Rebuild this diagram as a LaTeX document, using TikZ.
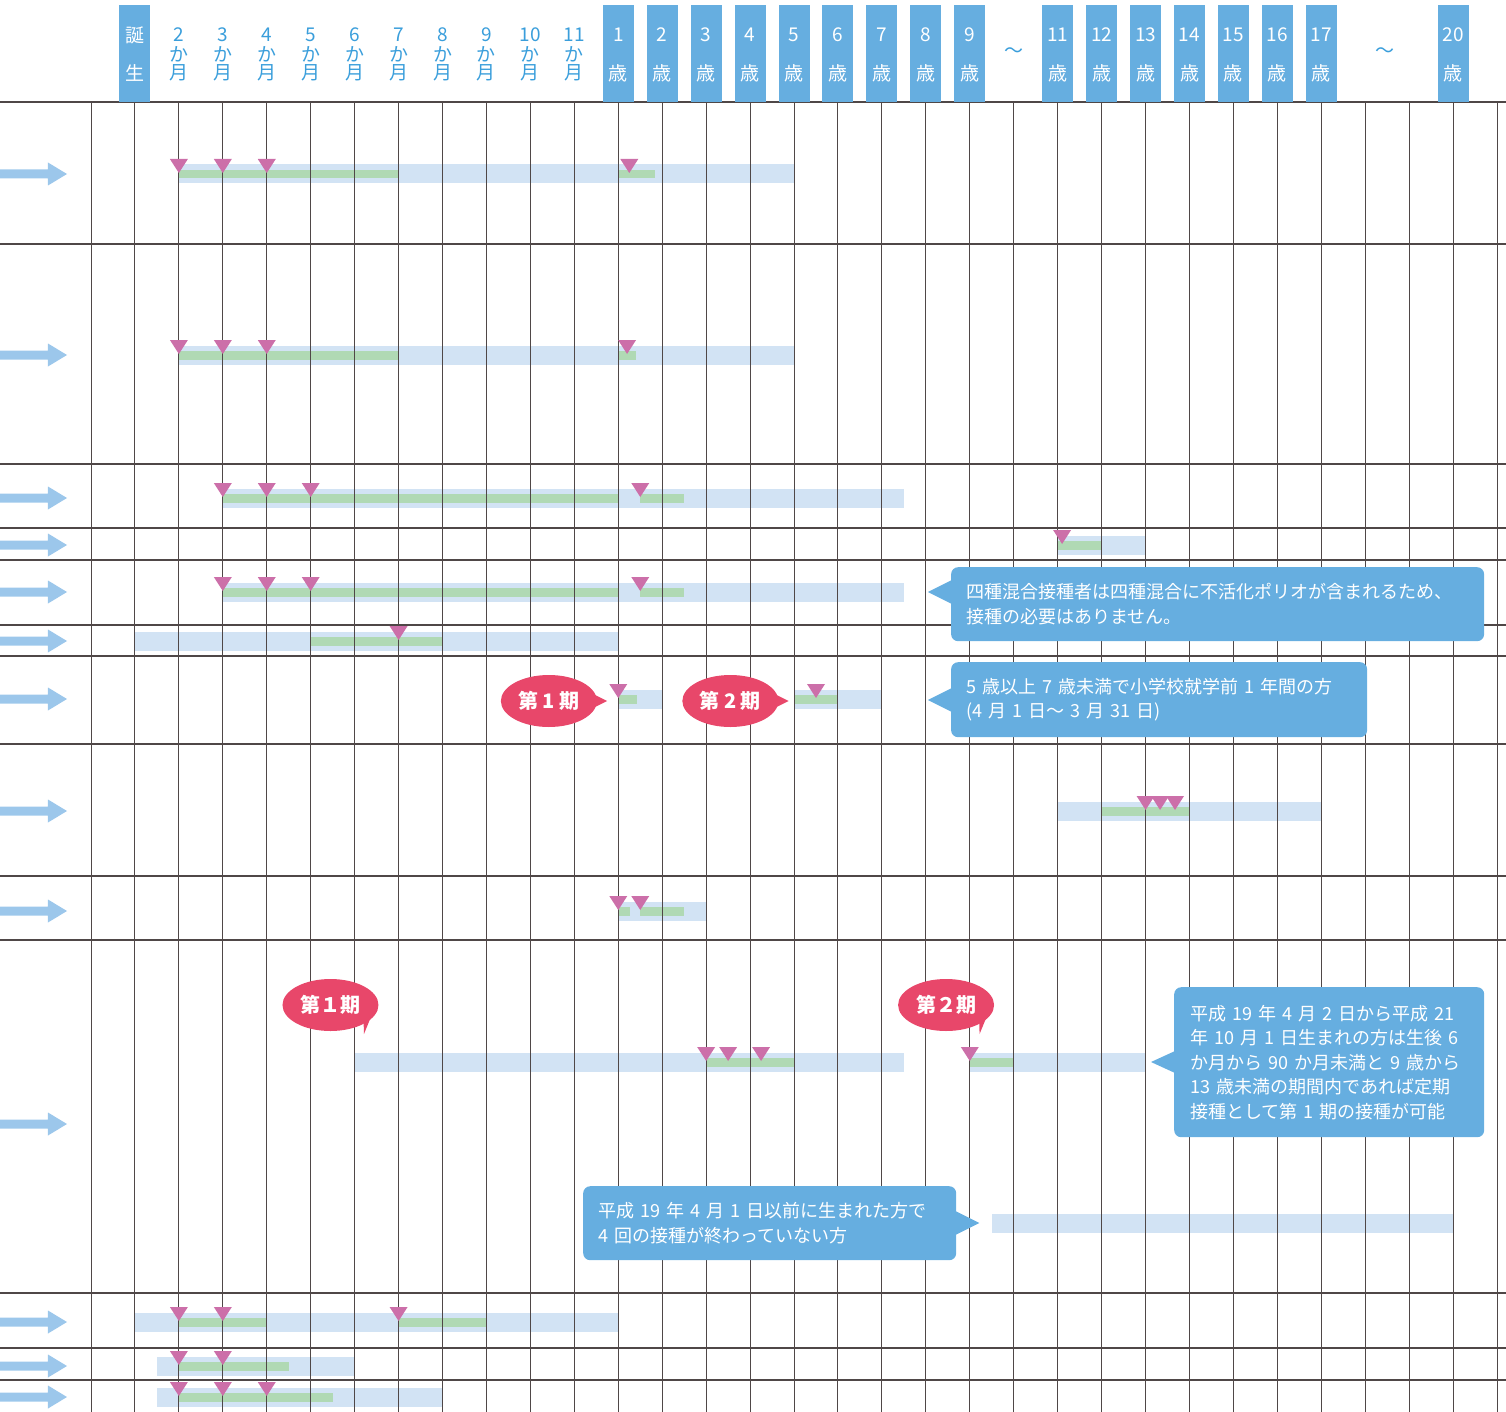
\documentclass[tikz,border=0pt]{standalone}
\usepackage{fontspec}
\setmainfont{Noto Sans CJK JP}
\usetikzlibrary{shapes.geometric}

\definecolor{hdrblue}{HTML}{66AEE0}
\definecolor{monthblue}{HTML}{3A9EDB}
\definecolor{periodblue}{HTML}{D2E3F4}
\definecolor{stdgreen}{HTML}{B0D9B4}
\definecolor{dosepink}{HTML}{CC6FA9}
\definecolor{phasered}{HTML}{E8476A}
\definecolor{rowarrowblue}{HTML}{9CC7EB}
\definecolor{gridgray}{HTML}{4F4747}

% bars of one row: from column, to column, row centre
\newcommand\vperiod[3]{\fill[periodblue] (#1,#3-9.5) rectangle (#2,#3+9.5);}
\newcommand\vstd[3]{\fill[stdgreen] (#1,#3-4) rectangle (#2,#3+4.5);}
\newcommand\vdose[2]{\foreach \d in {#1} {\fill[dosepink] (\d,#2-1) -- ++(-9pt,14pt) -- ++(18pt,0pt) -- cycle;}}

\begin{document}
\begin{tikzpicture}[x=43.94pt, y=-1pt,
  hdrbox/.style={fill=hdrblue, minimum width=31pt, minimum height=97pt, inner sep=0pt},
  hdrtxt/.style={font=\fontsize{19}{22}\selectfont, inner sep=0pt},
  monthtxt/.style={hdrtxt, text=monthblue},
  agetxt/.style={hdrtxt, text=white},
  gridline/.style={draw=gridgray, line width=1pt},
  phase/.style={ellipse, fill=phasered, text=white, minimum width=96pt, minimum height=52pt, inner sep=0pt, font=\fontsize{20}{24}\selectfont\bfseries},
  note/.style={fill=hdrblue, text=white, rounded corners=7pt, align=left, inner xsep=15pt, inner ysep=0pt, font=\fontsize{18}{24.5}\selectfont}]
\useasboundingbox (-2.071,0) rectangle (32.203,1412);

% bars
\vperiod{2}{16}{174} \vstd{2}{7}{174} \vstd{12}{12.84}{174}
\vperiod{2}{16}{355} \vstd{2}{7}{355} \vstd{12}{12.4}{355}
\vperiod{3}{18.5}{498} \vstd{3}{12}{498} \vstd{12.5}{13.5}{498}
\vperiod{22}{24}{545} \vstd{22}{23}{545}
\vperiod{3}{18.5}{592} \vstd{3}{12}{592} \vstd{12.5}{13.5}{592}
\vperiod{1}{12}{641} \vstd{5}{8}{641}
\vperiod{12}{13}{699} \vstd{12}{12.43}{699}
\vperiod{16}{18}{699} \vstd{16}{17}{699}
\vperiod{22}{28}{811} \vstd{23}{25}{811}
\vperiod{12}{14}{911} \vstd{12}{12.27}{911} \vstd{12.5}{13.5}{911}
\vperiod{6}{18.5}{1062} \vstd{14}{16}{1062}
\vperiod{20}{24}{1062} \vstd{20}{21}{1062}
\vperiod{20.5}{31}{1223}
\vperiod{1}{12}{1322} \vstd{2}{4}{1322} \vstd{7}{9}{1322}
\vperiod{1.5}{6}{1366} \vstd{2}{4.5}{1366}
\vperiod{1.5}{8}{1397} \vstd{2}{5.5}{1397}

% grid
\foreach \y in {102,244,464,528,560,625,656,744,876,940,1293,1348,1380}
  \draw[gridline, line width=1.5pt] (-2.071,\y) -- (32.203,\y);
\foreach \i in {0,...,32}
  \draw[gridline] (\i,102) -- (\i,1412);

% doses
\vdose{2,3,4,12.25}{174}
\vdose{2,3,4,12.2}{355}
\vdose{3,4,5,12.5}{498}
\vdose{22.1}{545}
\vdose{3,4,5,12.5}{592}
\vdose{7}{641}
\vdose{12,16.5}{699}
\vdose{24,24.33,24.67}{811}
\vdose{12,12.5}{911}
\vdose{14,14.5,15.25,20}{1062}
\vdose{2,3,7}{1322}
\vdose{2,3}{1366}
\vdose{2,3,4}{1397}

% row arrows
\foreach \y in {174,355,498,545,592,641,699,811,911,1124,1322,1366,1397}
  \fill[rowarrowblue] (-2.08,\y-4.5) -- (-0.979,\y-4.5) -- (-0.979,\y-11.5) -- (-0.546,\y)
    -- (-0.979,\y+11.5) -- (-0.979,\y+4.5) -- (-2.08,\y+4.5) -- cycle;

% header
\node[hdrbox] (birthbox) at (1,53.5) {};
\node[agetxt] (birthA) at (1,35) {誕};
\node[agetxt] (birthB) at (1,73) {生};
\foreach \m in {2,...,11} {
  \node[monthtxt] (mnum\m) at (\m,35) {\m};
  \node[monthtxt] (mka\m) at (\m,54) {か};
  \node[monthtxt] (mgetsu\m) at (\m,73) {月};
}
\foreach \i/\a in {12/1,13/2,14/3,15/4,16/5,17/6,18/7,19/8,20/9,22/11,23/12,24/13,25/14,26/15,27/16,28/17,31/20} {
  \node[hdrbox] (agebox\a) at (\i,53.5) {};
  \node[agetxt] (agenum\a) at (\i,35) {\a};
  \node[agetxt] (agesai\a) at (\i,73) {歳};
}
\node[monthtxt] (skipA) at (21,53) {～};
\node[monthtxt] (skipB) at (29.45,53) {～};

% phases
\node[phase] (phaseA1) at (10.42,701) {第 1 期};
\fill[phasered] (phaseA1.east) ++(-6pt,8pt) -- ++(16pt,-8pt) -- ++(-16pt,-8pt) -- cycle;
\node[phase] (phaseA2) at (14.55,701) {第 2 期};
\fill[phasered] (phaseA2.east) ++(-6pt,8pt) -- ++(16pt,-8pt) -- ++(-16pt,-8pt) -- cycle;
\node[phase] (phaseB1) at (5.45,1005) {第１期};
\fill[phasered] (phaseB1.center) ++(33pt,-13pt) -- ++(0.5pt,-16pt) -- ++(9pt,22pt) -- cycle;
\node[phase] (phaseB2) at (19.46,1005) {第２期};
\fill[phasered] (phaseB2.center) ++(33pt,-13pt) -- ++(0.5pt,-16pt) -- ++(9pt,22pt) -- cycle;

% notes
\node[note, anchor=north west, text width=503pt, minimum height=74pt] (noteA) at (19.57,567)
  {四種混合接種者は四種混合に不活化ポリオが含まれるため、\\接種の必要はありません。};
\fill[hdrblue] (noteA.north west) ++(1pt,-13pt) -- ++(-24pt,-12pt) -- ++(24pt,-12pt) -- cycle;
\node[note, anchor=north west, text width=386pt, minimum height=75pt] (noteB) at (19.57,662)
  {5 歳以上 7 歳未満で小学校就学前 1 年間の方\\(4 月 1 日～ 3 月 31 日)};
\fill[hdrblue] (noteB.north west) ++(1pt,-26pt) -- ++(-24pt,-12pt) -- ++(24pt,-12pt) -- cycle;
\node[note, anchor=north west, text width=278pt, inner xsep=16pt, minimum height=150pt] (noteC) at (24.647,987)
  {平成 19 年 4 月 2 日から平成 21\\年 10 月 1 日生まれの方は生後 6\\か月から 90 か月未満と 9 歳から\\13 歳未満の期間内であれば定期\\接種として第 1 期の接種が可能};
\fill[hdrblue] (noteC.north west) ++(1pt,-64pt) -- ++(-24pt,-11pt) -- ++(24pt,-11pt) -- cycle;
\node[note, anchor=north west, text width=343pt, minimum height=74pt] (noteD) at (11.197,1186)
  {平成 19 年 4 月 1 日以前に生まれた方で\\4 回の接種が終わっていない方};
\fill[hdrblue] (noteD.north east) ++(-1pt,-25pt) -- ++(24pt,-12pt) -- ++(-24pt,-12pt) -- cycle;
\end{tikzpicture}
\end{document}
